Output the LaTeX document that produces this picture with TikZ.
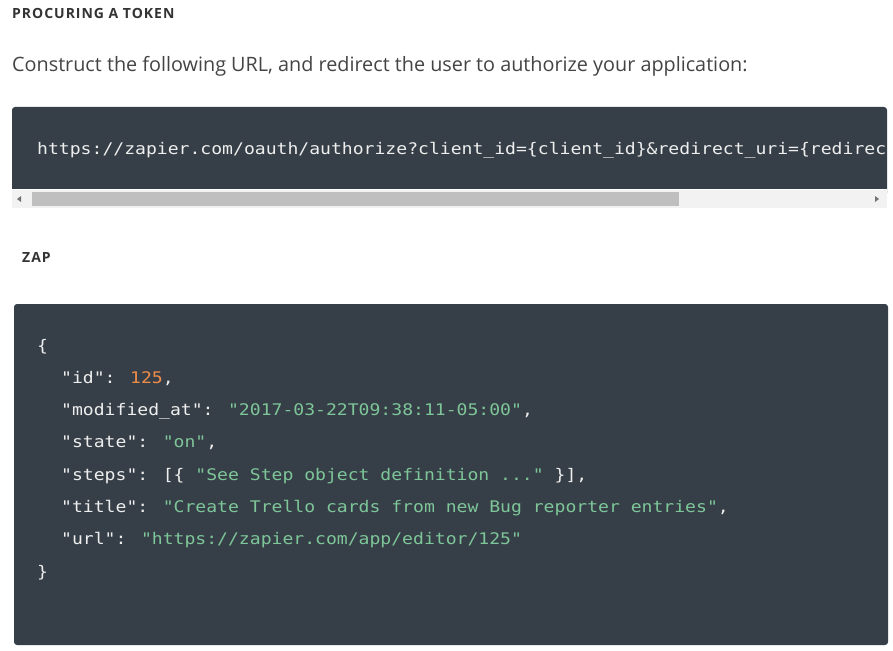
\documentclass[tikz,border=0pt]{standalone}
\usepackage{fontspec}
\setmainfont{Open Sans}
\newfontfamily\codefont[FakeStretch=1.13]{DejaVu Sans Mono}
\definecolor{codebg}{HTML}{363F47}
\definecolor{codefg}{HTML}{EEEEEE}
\definecolor{numc}{HTML}{F08D49}
\definecolor{strc}{HTML}{7EC699}
\definecolor{headc}{HTML}{333333}
\definecolor{bodyc}{HTML}{444444}
\tikzset{
  heading/.style={anchor=base west,inner sep=0pt,text=headc,font=\fontsize{14}{16}\selectfont\bfseries\addfontfeatures{LetterSpace=7}},
  body/.style={anchor=base west,inner sep=0pt,text=bodyc,font=\fontsize{19.8}{22}\selectfont},
  code/.style={anchor=base west,inner sep=0pt,text=codefg,font=\codefont\fontsize{16}{20}\selectfont},
}
\newcommand{\St}[1]{\textcolor{strc}{#1}}
\newcommand{\Nm}[1]{\textcolor{numc}{#1}}
\begin{document}
\begin{tikzpicture}[x=1pt,y=-1pt]
\useasboundingbox (0,0) rectangle (893,650);
\fill[white] (0,0) rectangle (893,650);
\node[heading] (h1) at (12,19) {PROCURING A TOKEN};
\node[body] (p1) at (12,72) {Construct the following URL, and redirect the user to authorize your application:};
% URL box
\fill[codebg,rounded corners=3pt] (12,107) rectangle (887,196);
\fill[codebg] (12,180) rectangle (887,189);
\begin{scope}
\clip (12,107) rectangle (887,189);
\node[code] (url) at (37,154) {https://zapier.com/oauth/authorize?client\_id=\{client\_id\}\&redirect\_uri=\{redirect\_uri\}};
\end{scope}
% scrollbar
\fill[white] (12,189) rectangle (887,210);
\fill[black!5] (12,190) rectangle (887,208);
\fill[black!25] (32,192) rectangle (679,206);
\fill[black!55] (21,196) -- (17,199) -- (21,202) -- cycle;
\fill[black!55] (875,196) -- (879,199) -- (875,202) -- cycle;
\node[heading] (h2) at (22,262) {ZAP};
% zap box
\fill[codebg,rounded corners=3pt] (14,304) rectangle (888,645);
\node[code] (l1) at (37,351) {\{};
\node[code] (l2) at (61,383) {"id": \Nm{125},};
\node[code] (l3) at (61,415) {"modified\_at": \St{"2017-03-22T09:38:11-05:00"},};
\node[code] (l4) at (61,447) {"state": \St{"on"},};
\node[code] (l5) at (61,480) {"steps": [\{ \St{"See Step object definition ..."} \}],};
\node[code] (l6) at (61,512) {"title": \St{"Create Trello cards from new Bug reporter entries"},};
\node[code] (l7) at (61,544) {"url": \St{"https://zapier.com/app/editor/125"}};
\node[code] (l8) at (37,577) {\}};
\end{tikzpicture}
\end{document}
